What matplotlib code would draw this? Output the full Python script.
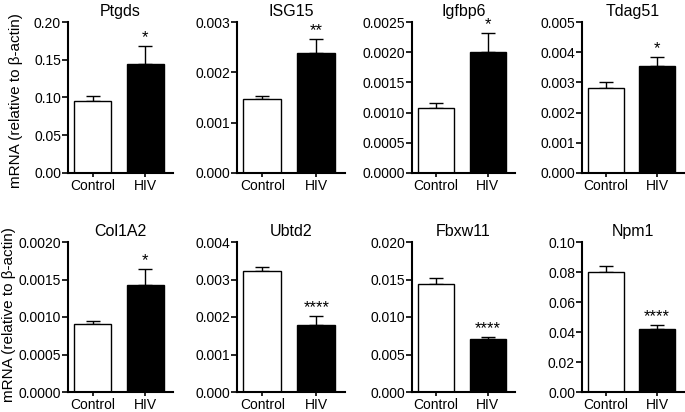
import matplotlib
matplotlib.use("Agg")
import matplotlib.pyplot as plt
from matplotlib.ticker import FormatStrFormatter, MultipleLocator

plt.rcParams['font.family'] = ['Liberation Sans', 'DejaVu Sans']

groups = ["Control", "HIV"]
genes = ["Ptgds", "ISG15", "Igfbp6", "Tdag51", "Col1A2", "Ubtd2", "Fbxw11", "Npm1"]
means = [
    [0.096, 0.145],
    [0.00148, 0.00238],
    [0.00107, 0.00200],
    [0.00283, 0.00355],
    [0.000905, 0.00143],
    [0.00322, 0.00180],
    [0.01437, 0.00705],
    [0.0800, 0.0417],
]
errors = [
    [0.006, 0.023],
    [0.00004, 0.00028],
    [0.00009, 0.00032],
    [0.00019, 0.00029],
    [0.000045, 0.00021],
    [0.00011, 0.00023],
    [0.00088, 0.00027],
    [0.0038, 0.0033],
]
stars = ["*", "**", "*", "*", "*", "****", "****", "****"]
ymax = [0.20, 0.003, 0.0025, 0.005, 0.0020, 0.004, 0.020, 0.10]
ystep = [0.05, 0.001, 0.0005, 0.001, 0.0005, 0.001, 0.005, 0.02]
yfmt = ["%.2f", "%.3f", "%.4f", "%.3f", "%.4f", "%.3f", "%.3f", "%.2f"]
ylabel = "mRNA (relative to β-actin)"

W, H = 685, 412
fig = plt.figure(figsize=(W / 100, H / 100), dpi=100)

lefts = [68, 237, 412, 582]
rights = [173, 345, 515, 684]
tops = [22, 242]
bottoms = [173, 392]
ylab_x = [16, 9]
ylab_y = [101, 315]

for i, g in enumerate(genes):
    r, c = divmod(i, 4)
    l, rr = lefts[c], rights[c]
    t, b = tops[r], bottoms[r]
    ax = fig.add_axes([l / W, 1 - b / H, (rr - l) / W, (b - t) / H])
    x = [0, 1]
    ax.bar(x, means[i], width=0.7, color=["white", "black"], edgecolor="black",
           linewidth=1.0, zorder=2)
    ax.errorbar(x, means[i], yerr=[[0, 0], errors[i]], fmt="none", ecolor="black",
                elinewidth=1.0, capsize=5, capthick=1.0, zorder=1)
    top_err = means[i][1] + errors[i][1]
    ax.text(1, top_err + ymax[i] * 0.005, stars[i], ha="center", va="bottom", fontsize=12)
    ax.set_xlim(-0.47, 1.53)
    ax.set_ylim(0, ymax[i])
    ax.yaxis.set_major_locator(MultipleLocator(ystep[i]))
    ax.yaxis.set_major_formatter(FormatStrFormatter(yfmt[i]))
    ax.set_xticks(x)
    ax.set_xticklabels(groups)
    for s in ["top", "right"]:
        ax.spines[s].set_visible(False)
    for s in ["left", "bottom"]:
        ax.spines[s].set_linewidth(1.5)
    ax.tick_params(axis="both", width=1.2, direction="out")
    ax.tick_params(axis="y", length=4, pad=1, labelsize=10)
    ax.tick_params(axis="x", length=3, pad=1, labelsize=10)
    ax.set_title(g, fontsize=11.5, pad=4)
    if c == 0:
        fig.text(ylab_x[r] / W, 1 - ylab_y[r] / H, ylabel, rotation=90, ha="center",
                 va="center", fontsize=11)

fig.savefig("out.png", dpi=100)
